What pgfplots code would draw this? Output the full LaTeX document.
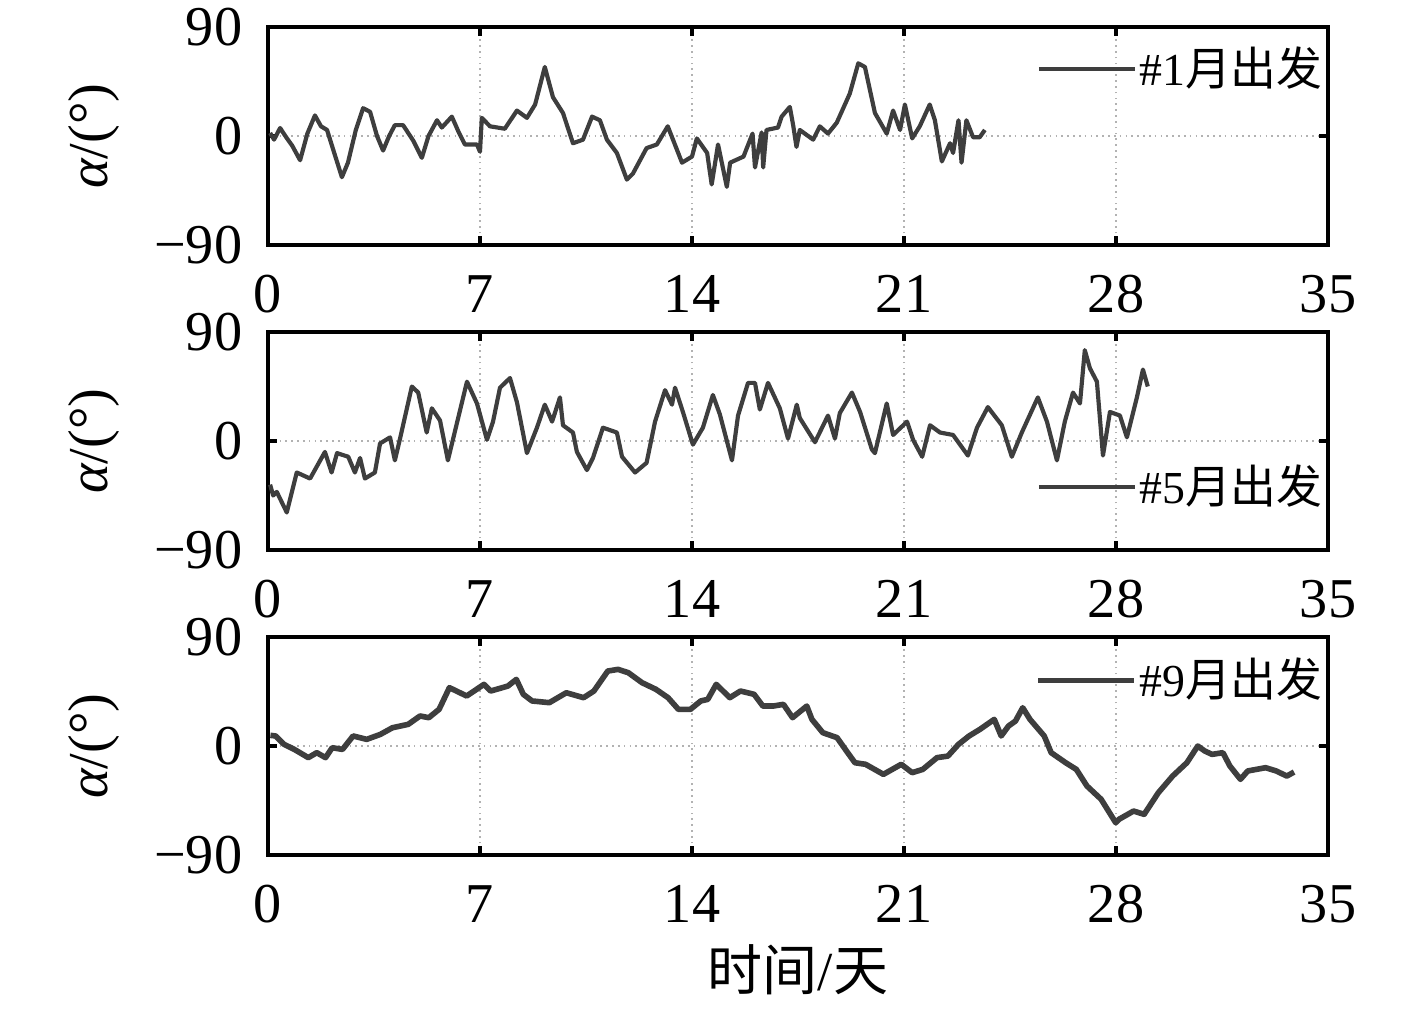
\documentclass[border=0pt]{standalone}
\usepackage{fontspec}
\setmainfont{Liberation Serif}
\newfontfamily\cjk{Noto Sans CJK SC}
\usepackage{pgfplots}
\pgfplotsset{compat=1.18}
\definecolor{curve}{HTML}{3E3E3E}

\newcommand\tickfont{\fontsize{13.5}{16}\selectfont}
\newcommand\legfont{\fontsize{11}{13}\selectfont}

\pgfplotsset{
  panel/.style={
    scale only axis,
    width=254.4pt, height=52.32pt,
    xmin=0, xmax=35, ymin=-90, ymax=90,
    xtick={0,7,14,21,28,35}, xticklabels={0,7,14,21,28,35},
    ytick={-90,0,90}, yticklabels={−90,0,90},
    grid=major,
    major grid style={gray!60, densely dotted, line width=0.6pt},
    axis line style={line width=1pt},
    tick style={black, line width=0.9pt},
    major tick length=2.2pt,
    tick align=inside,
    ticklabel style={font=\tickfont},
    xticklabel style={anchor=base, inner sep=0pt, yshift=-16.3pt},
    yticklabel style={anchor=east, inner sep=0pt, xshift=-6pt},
    ylabel={{\itshape α}/(°)},
    ylabel style={at={(axis description cs:-0.164,0.5)}, anchor=center, rotate=0, font=\fontsize{13.5}{15}\selectfont},
    legend style={draw=none, fill=none, anchor=east, inner sep=0pt,
      font=\legfont, nodes={inner sep=0.6pt}},
    legend image code/.code={\draw[#1] (0pt,0pt) -- (23pt,0pt);},
  }
}

\begin{document}
\begin{tikzpicture}
\useasboundingbox (-64.32pt,-36.72pt) rectangle (275.76pt,205.2pt);

\begin{axis}[panel, at={(0pt,146.4pt)}, legend style={at={(0.998,0.807)}}]
\addplot[curve, mark=none, line width=1pt, line join=round] coordinates {
(0.07,2.5) (0.2,-3) (0.4,6.6) (0.6,-1) (0.8,-8) (1.06,-20) (1.3,2) (1.55,17) (1.75,8) (1.95,5)
(2.2,-15) (2.44,-34) (2.64,-22) (2.9,5) (3.14,23) (3.37,20) (3.6,0) (3.8,-12) (4.0,0) (4.19,9)
(4.46,9) (4.8,-4) (5.08,-18) (5.3,0) (5.58,13) (5.74,7) (6.07,16) (6.3,3) (6.5,-7) (6.9,-7)
(7.0,-13) (7.06,15) (7.33,8) (7.82,6) (8.22,21) (8.55,15) (8.82,26) (9.14,57) (9.41,32) (9.74,19)
(10.07,-6) (10.4,-3) (10.7,16) (10.96,13) (11.19,-3) (11.52,-14) (11.85,-36) (12.05,-31) (12.5,-10)
(12.84,-7) (13.2,8) (13.67,-22) (14.0,-17) (14.16,-2) (14.5,-14) (14.65,-40) (14.86,-7) (15.15,-42)
(15.26,-22) (15.7,-17) (16.0,2) (16.08,-26) (16.3,3) (16.35,-26) (16.46,5) (16.84,7) (16.96,16)
(17.23,24) (17.34,9) (17.45,-9) (17.56,5) (18.0,-3) (18.22,8) (18.49,2) (18.78,11) (19.21,35)
(19.49,60) (19.71,57) (20.04,19) (20.43,2) (20.64,21) (20.87,5) (21.03,26) (21.27,-2) (21.52,8)
(21.85,26) (22.02,13) (22.25,-21) (22.52,-6) (22.62,-14) (22.8,13) (22.9,-22) (23.06,13) (23.28,-1)
(23.5,-1) (23.67,5)
};
\addlegendentry{\#1{\cjk 月出发}}
\end{axis}

\begin{axis}[panel, at={(0pt,73.2pt)}, legend style={at={(0.998,0.289)}}]
\addplot[curve, mark=none, line width=1pt, line join=round] coordinates {
(0.07,-36) (0.17,-45) (0.29,-42) (0.62,-59) (0.95,-26) (1.39,-31) (1.88,-9) (2.1,-26) (2.28,-10)
(2.65,-13) (2.87,-26) (3.04,-14) (3.2,-31) (3.53,-26) (3.7,-2) (4.03,3) (4.19,-16) (4.36,2) (4.75,45)
(4.96,40) (5.24,7) (5.41,27) (5.68,17) (5.94,-16) (6.57,49) (6.9,31) (7.23,1) (7.43,16) (7.66,44)
(7.99,52) (8.22,32) (8.55,-10) (8.88,11) (9.14,30) (9.38,16) (9.64,36) (9.74,13) (10.07,7) (10.2,-9)
(10.53,-24) (10.73,-14) (11.06,11) (11.52,7) (11.69,-13) (12.12,-26) (12.5,-18) (12.78,16) (13.11,42)
(13.34,30) (13.44,44) (13.7,24) (14.03,-3) (14.36,11) (14.69,38) (14.92,22) (15.32,-16) (15.52,21)
(15.85,48) (16.08,48) (16.24,26) (16.51,48) (16.9,27) (17.17,2) (17.46,30) (17.56,19) (18.06,-1)
(18.49,21) (18.72,2) (18.88,23) (19.28,40) (19.55,24) (19.94,-7) (20.04,-10) (20.43,31) (20.64,5)
(21.1,16) (21.3,1) (21.6,-13) (21.86,13) (22.19,7) (22.62,5) (23.11,-12) (23.41,11) (23.77,28)
(24.23,13) (24.56,-13) (24.89,7) (25.42,36) (25.72,16) (26.05,-16) (26.31,16) (26.58,40) (26.81,31)
(26.97,75) (27.14,60) (27.37,49) (27.57,-12) (27.8,24) (28.13,21) (28.36,3) (28.69,36) (28.89,59)
(29.05,45)
};
\addlegendentry{\#5{\cjk 月出发}}
\end{axis}

\begin{axis}[panel, at={(0pt,0pt)}, legend style={at={(0.998,0.80)}},
  xlabel={{\cjk 时间}/{\cjk 天}},
  xlabel style={at={(axis description cs:0.5,-0.5275)}, anchor=center, font=\fontsize{13.2}{15}\selectfont}]
\addplot[curve, mark=none, line width=1.35pt, line join=round] coordinates {
(0.08,8.8) (0.25,8.3) (0.53,1.4) (0.87,-2.8) (1.33,-9.6) (1.61,-5.5) (1.9,-9.6) (2.12,-1.4)
(2.46,-2.8) (2.81,8.3) (3.26,5.5) (3.71,9.6) (4.11,15.1) (4.63,17.9) (5.02,24.8) (5.31,23.4)
(5.65,30.3) (5.99,48.2) (6.56,41.3) (7.13,50.9) (7.35,45.4) (7.92,49.5) (8.2,55) (8.43,42.7)
(8.72,37.2) (9.29,35.8) (9.85,44) (10.42,39.9) (10.76,45.4) (11.22,61.9) (11.56,63.3) (11.9,60.5)
(12.35,52.3) (12.81,46.8) (13.21,39.9) (13.55,30.3) (13.95,30.3) (14.29,37.2) (14.52,38.5)
(14.8,50.9) (15.25,39.9) (15.6,45.4) (16.05,42.7) (16.34,33) (16.68,33) (17.02,34.4) (17.32,23.4)
(17.79,33) (17.96,22) (18.32,11) (18.79,6.9) (19.14,-5.5) (19.38,-13.8) (19.73,-15.1) (20.32,-23.4)
(20.91,-15.1) (21.27,-22) (21.62,-19.3) (22.09,-9.6) (22.45,-8.3) (22.8,1.4) (23.15,8.3) (23.51,13.8)
(23.98,22) (24.21,8.3) (24.45,16.5) (24.68,20.6) (24.92,31.6) (25.16,22) (25.63,8.3) (25.86,-5.5)
(26.34,-13.8) (26.69,-19.3) (27.04,-33) (27.51,-44) (27.99,-63.3) (28.1,-60.5) (28.58,-53.7)
(28.93,-56.4) (29.4,-38.5) (29.87,-24.8) (30.34,-13.8) (30.7,0) (30.93,-4.1) (31.17,-6.9)
(31.53,-5.5) (31.76,-16.5) (32.11,-27.5) (32.35,-20.6) (32.94,-17.9) (33.29,-20.6) (33.64,-24.8)
(33.88,-21.5)
};
\addlegendentry{\#9{\cjk 月出发}}
\end{axis}
\end{tikzpicture}
\end{document}
